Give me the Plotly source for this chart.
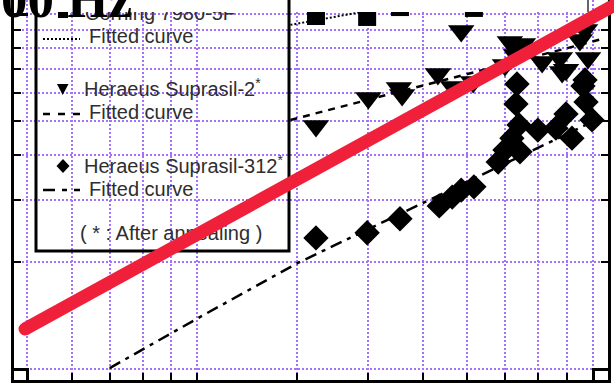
import plotly.graph_objects as go

W, H = 614, 385

# ---------------- data ----------------
corning_x = [3.24, 3.99, 4.56, 6.16]
corning_y = [9.87, 9.81, 10.46, 10.40]
corning_fit_x = [2.92, 3.5, 4.0, 5.0, 6.0]
corning_fit_y = [9.32, 9.82, 10.2, 10.88, 11.4]

s2_x = [3.24, 4.01, 4.54, 4.60, 5.32, 5.66, 6.14, 5.85, 7.13, 7.52, 7.31, 6.99,
        7.43, 8.13, 8.74, 8.96, 8.82, 9.48, 9.68, 9.80]
s2_y = [4.84, 5.80, 6.19, 5.91, 6.78, 6.23, 6.43, 8.96, 8.34, 8.23, 7.66, 7.18,
        8.02, 7.33, 7.52, 6.96, 6.87, 8.45, 9.02, 7.52]
s2_fit_x = [2.92, 4.56, 6.85, 10.29]
s2_fit_y = [5.03, 6.05, 7.16, 8.47]

s312_x = [3.24, 3.99, 4.56, 5.35, 5.64, 5.85, 6.16, 7.34, 7.31, 7.40, 7.19, 6.99,
          7.43, 6.80, 7.99, 8.60, 8.96, 9.18, 9.60, 9.72, 9.96, 9.68]
s312_y = [2.34, 2.42, 2.65, 2.88, 3.05, 3.19, 3.26, 6.35, 5.58, 4.87, 4.47, 4.14,
          4.09, 3.83, 4.71, 4.77, 5.23, 4.47, 6.27, 5.65, 5.03, 6.52]
s312_fit_x = [1.40, 2.02, 3.01, 5.37, 7.43, 10.29]
s312_fit_y = [1.006, 1.40, 1.99, 3.09, 3.96, 5.09]

x_major = [1, 10]
x_minor = [1.2, 1.4, 1.6, 1.8, 2, 3, 4, 5, 6, 7, 8, 9]
y_major = [1, 10]
y_minor = [2, 3, 4, 5, 6, 7, 8, 9]

legend_labels = ["Corning 7980-5F", "Fitted curve",
                 "Heraeus Suprasil-2<sup>*</sup>", "Fitted curve",
                 "Heraeus Suprasil-312<sup>*</sup>", "Fitted curve",
                 "( * : After annealing )"]
title_text = "<b>00 Hz</b>"

# ---------------- layout helpers (pixel -> axis / paper) ----------------
X1PX, DECX = 27.0, 566.0     # pixel of x=1, pixels per decade
Y1PX, DECY = 369.0, 355.0    # pixel of y=1, pixels per decade


def xv(p):
    return 10 ** ((p - X1PX) / DECX)


def yv(p):
    return 10 ** ((Y1PX - p) / DECY)


def lx(p):
    return (p - X1PX) / DECX


def ly(p):
    return (Y1PX - p) / DECY


def PX(p):
    return p / W


def PY(p):
    return 1 - p / H


GRID = "rgb(164,112,252)"
INK = "#000000"
TXT = "#2e2e2e"
RED = "#f0203a"

fig = go.Figure()

# fitted curves
fig.add_trace(go.Scatter(x=corning_fit_x, y=corning_fit_y, mode="lines",
                         line=dict(color=INK, width=2, dash="2px,2px")))
fig.add_trace(go.Scatter(x=s2_fit_x, y=s2_fit_y, mode="lines",
                         line=dict(color=INK, width=2.5, dash="7px,6px")))
fig.add_trace(go.Scatter(x=s312_fit_x, y=s312_fit_y, mode="lines",
                         line=dict(color=INK, width=2.5, dash="12px,6px,4px,6px")))
# data points
fig.add_trace(go.Scatter(x=corning_x, y=corning_y, mode="markers",
                         marker=dict(symbol="square", size=18, color=INK)))
fig.add_trace(go.Scatter(x=s2_x, y=s2_y, mode="markers",
                         marker=dict(symbol="triangle-down", size=23, color=INK)))
fig.add_trace(go.Scatter(x=s312_x, y=s312_y, mode="markers",
                         marker=dict(symbol="diamond", size=19.5, color=INK)))

# legend text (as a text trace so the overlays can sit above it)
leg_px = [85, 89, 84, 89, 84, 89, 80]
leg_base = [20, 43, 96, 119, 173, 196, 240]
fig.add_trace(go.Scatter(
    x=[xv(p) for p in leg_px], y=[yv(b - 5) for b in leg_base],
    mode="text", text=legend_labels, textposition="middle right",
    textfont=dict(family="Arial, Liberation Sans, sans-serif", size=20, color=TXT),
    cliponaxis=False, hoverinfo="skip"))

for tr in fig.data:
    tr.showlegend = False
    tr.hoverinfo = "skip"

axis_common = dict(type="log", showticklabels=False, showline=True,
                   linecolor=INK, linewidth=3, ticks="inside", tickcolor=INK,
                   tickwidth=2.5, showgrid=True, gridcolor=GRID, gridwidth=1.6,
                   griddash="2px,2px", zeroline=False, tickmode="array")

fig.update_layout(
    width=W, height=H, autosize=False,
    margin=dict(l=0, r=0, t=0, b=0, pad=0),
    paper_bgcolor="white", plot_bgcolor="white",
    showlegend=False,
    xaxis=dict(**axis_common, domain=[13.5 / W, 607.5 / W],
               range=[lx(13.5), lx(607.5)], tickvals=x_major, ticklen=12,
               mirror=False,
               minor=dict(tickmode="array", tickvals=x_minor, ticks="inside",
                          ticklen=7, tickwidth=2, tickcolor=INK, showgrid=True,
                          gridcolor=GRID, gridwidth=1.6, griddash="2px,2px")),
    yaxis=dict(**axis_common, domain=[(H - 379.5) / H, 1],
               range=[ly(379.5), ly(0)], tickvals=y_major, ticklen=14,
               mirror="ticks",
               minor=dict(tickmode="array", tickvals=y_minor, ticks="inside",
                          ticklen=7, tickwidth=2, tickcolor=INK, showgrid=True,
                          gridcolor=GRID, gridwidth=1.6, griddash="2px,2px")),
)

overlay_stroke = [(25, 329), (640, -9)]   # the red diagonal drawn over the chart

shapes = []
# white legend panel, above grid, below marks
shapes.append(dict(type="rect", xref="x", yref="y", layer="between",
                   x0=lx(36), x1=lx(289), y0=ly(251), y1=ly(-20),
                   fillcolor="white", line=dict(width=0)))
# legend glyphs
shapes.append(dict(type="rect", xref="paper", yref="paper", layer="above",
                   x0=PX(58), x1=PX(68), y0=PY(18), y1=PY(8),
                   fillcolor=INK, line=dict(width=0)))
shapes.append(dict(type="path", xref="paper", yref="paper", layer="above",
                   path=f"M{PX(57)},{PY(84)} L{PX(68.5)},{PY(84)} L{PX(62.7)},{PY(95)} Z",
                   fillcolor=INK, line=dict(width=0)))
shapes.append(dict(type="path", xref="paper", yref="paper", layer="above",
                   path=(f"M{PX(63)},{PY(159)} L{PX(69.5)},{PY(166)} "
                         f"L{PX(63)},{PY(173)} L{PX(56.5)},{PY(166)} Z"),
                   fillcolor=INK, line=dict(width=0)))
# legend line samples
for yy, dash, wd in [(39, "2px,2px", 2), (114, "7px,8px", 2.5),
                     (190, "12px,7px,5px,7px", 2.5)]:
    shapes.append(dict(type="line", xref="paper", yref="paper", layer="above",
                       x0=PX(43), x1=PX(80), y0=PY(yy), y1=PY(yy),
                       line=dict(color=INK, width=wd, dash=dash)))
# white band at the top
for a, b in [(37.5, 286.5), (290.5, 588)]:
    shapes.append(dict(type="rect", xref="paper", yref="paper", layer="above",
                       x0=PX(a), x1=PX(b), y0=PY(12), y1=PY(-5),
                       fillcolor="white", line=dict(width=0)))
shapes.append(dict(type="line", xref="paper", yref="paper", layer="above",
                   x0=PX(588), x1=PX(588), y0=PY(12), y1=PY(-2),
                   line=dict(color="#333333", width=1.5)))
# legend frame
shapes.append(dict(type="rect", xref="paper", yref="paper", layer="above",
                   x0=PX(36), x1=PX(289), y0=PY(251), y1=PY(-20),
                   fillcolor="rgba(0,0,0,0)", line=dict(color=INK, width=3)))
# red diagonal overlay with a round start cap
(ax_, ay_), (bx_, by_) = overlay_stroke
shapes.append(dict(type="line", xref="paper", yref="paper", layer="above",
                   x0=PX(ax_), y0=PY(ay_), x1=PX(bx_), y1=PY(by_),
                   line=dict(color=RED, width=13)))
shapes.append(dict(type="circle", xref="paper", yref="paper", layer="above",
                   x0=PX(ax_ - 6.5), x1=PX(ax_ + 6.5), y0=PY(ay_ + 6.5), y1=PY(ay_ - 6.5),
                   fillcolor=RED, line=dict(width=0)))
fig.update_layout(shapes=shapes)

fig.add_annotation(text=title_text, xref="paper", yref="paper",
                   x=PX(1), y=PY(17 + 0.216 * 53), xanchor="left", yanchor="bottom",
                   showarrow=False, borderpad=0, borderwidth=0,
                   font=dict(family="Liberation Serif, Times New Roman, serif",
                             size=53, color="#000000"))

fig.write_html("out.html", config=dict(displayModeBar=False))
